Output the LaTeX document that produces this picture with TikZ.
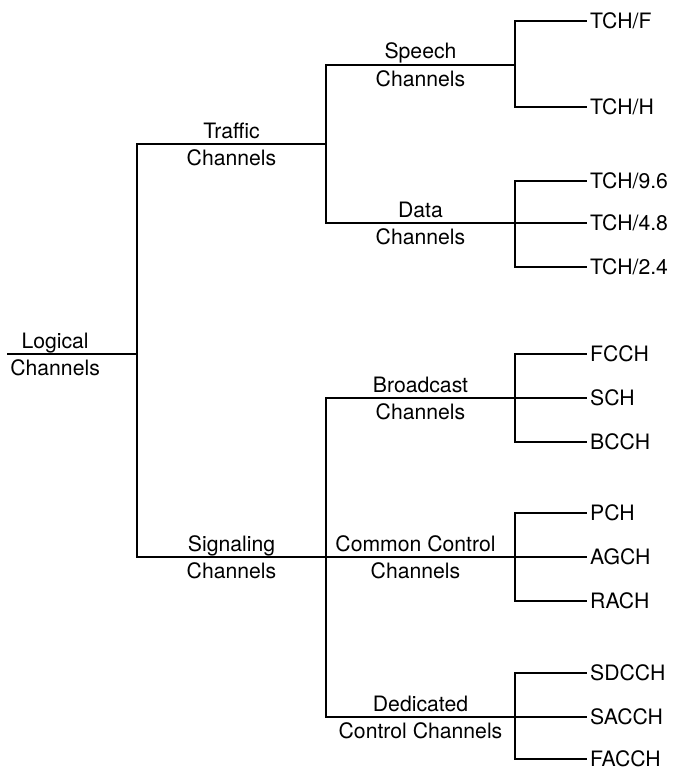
\documentclass[tikz,border=0pt]{standalone}
\usepackage{fontspec}
\setmainfont{TeX Gyre Heros}
\usetikzlibrary{positioning}

\begin{document}
\begin{tikzpicture}[
  x=1pt,y=-1pt,
  font=\fontsize{21.2}{25}\selectfont,
  wire/.style={line width=1.8pt},
  hi/.style={anchor=base,yshift=6pt,inner sep=0pt},
  lo/.style={anchor=base,yshift=-21pt,inner sep=0pt},
  leaf/.style={anchor=west,inner xsep=3pt,inner ysep=0pt,text height=15pt,text depth=0pt}
]
\useasboundingbox (0,0) rectangle (677,768);

% branch points
\coordinate (logical) at (7,354);
\coordinate (root) at (137,354);
\coordinate (traffic) at (326,144);
\coordinate (signaling) at (326,557);
\coordinate (speech) at (515,65);
\coordinate (data) at (515,223);
\coordinate (broadcast) at (515,398);
\coordinate (common) at (515,557);
\coordinate (dedicated) at (515,717);

\draw[wire] (logical) -- node[hi,pos=0.37]{Logical} node[lo,pos=0.37]{Channels} (root);
\draw[wire] (root) |- node[hi,pos=0.75]{Traffic} node[lo,pos=0.75]{Channels} (traffic);
\draw[wire] (root) |- node[hi,pos=0.75]{Signaling} node[lo,pos=0.75]{Channels} (signaling);

\draw[wire] (traffic) |- node[hi,pos=0.75]{Speech} node[lo,pos=0.75]{Channels} (speech);
\draw[wire] (traffic) |- node[hi,pos=0.75]{Data} node[lo,pos=0.75]{Channels} (data);
\draw[wire] (signaling) |- node[hi,pos=0.75]{Broadcast} node[lo,pos=0.75]{Channels} (broadcast);
\draw[wire] (signaling) -- node[hi,xshift=-5pt]{Common Control} node[lo,xshift=-5pt]{Channels} (common);
\draw[wire] (signaling) |- node[hi,pos=0.75]{Dedicated} node[lo,pos=0.75]{Control Channels} (dedicated);

% leaf channels
\foreach \src/\nm/\yy/\txt in {speech/tchf/21/{TCH/F}, speech/tchh/107/{TCH/H},
    data/tcha/181/{TCH/9.6}, data/tchb/223/{TCH/4.8}, data/tchc/267/{TCH/2.4},
    broadcast/fcch/354/FCCH, broadcast/sch/398/SCH, broadcast/bcch/442/BCCH,
    common/pch/513/PCH, common/agch/557/AGCH, common/rach/601/RACH,
    dedicated/sdcch/673/SDCCH, dedicated/sacch/717/SACCH, dedicated/facch/759/FACCH} {
  \node[leaf] (\nm) at (587,\yy) {\txt};
  \draw[wire] (\src) |- (\nm.west);
}
\end{tikzpicture}
\end{document}
